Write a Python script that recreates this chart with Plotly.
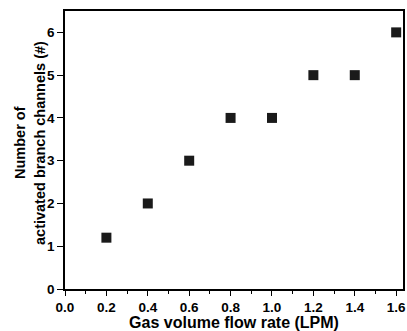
import plotly.graph_objects as go

flow_rate = [0.2, 0.4, 0.6, 0.8, 1.0, 1.2, 1.4, 1.6]
channels = [1.2, 2, 3, 4, 4, 5, 5, 6]
x_ticks = [0.0, 0.2, 0.4, 0.6, 0.8, 1.0, 1.2, 1.4, 1.6]
y_ticks = [0, 1, 2, 3, 4, 5, 6]
y_title_lines = ["Number of", "activated branch channels (#)"]

fig = go.Figure(go.Scatter(
    x=flow_rate, y=channels, mode="markers",
    marker=dict(symbol="square", size=10, color="#1a1a1a"),
))

font = "Liberation Sans, Arial, sans-serif"
fig.update_layout(
    width=407, height=331,
    margin=dict(l=65, r=2, t=11, b=42),
    plot_bgcolor="white", paper_bgcolor="white",
    showlegend=False,
    font=dict(family=font, color="black"),
)
fig.update_xaxes(
    range=[0, 1.633], tickvals=x_ticks, ticktext=[f"{v:.1f}" for v in x_ticks],
    ticks="outside", ticklen=5, tickwidth=1.3, tickcolor="black",
    minor=dict(ticks="outside", ticklen=3, tickwidth=1.2, tickcolor="black", dtick=0.1, tick0=0),
    showline=True, linecolor="black", linewidth=1.5, mirror=True,
    showgrid=False, zeroline=False,
    tickfont=dict(size=13.5, family=font, weight="bold"),
    title=dict(text="<b>Gas volume flow rate (LPM)</b>", font=dict(size=16, family=font), standoff=2),
)
fig.update_yaxes(
    range=[0, 6.5], tickvals=y_ticks,
    ticks="outside", ticklen=6, tickwidth=1.3, tickcolor="black",
    showline=True, linecolor="black", linewidth=1.5, mirror=True,
    showgrid=False, zeroline=False,
    tickfont=dict(size=13.5, family=font, weight="bold"),
)
for txt, shift in zip(y_title_lines, [-45, -25]):
    fig.add_annotation(
        text=f"<b>{txt}</b>", textangle=-90, xref="paper", yref="paper",
        x=0, y=0.5, xanchor="center", yanchor="middle", xshift=shift, yshift=7,
        showarrow=False, font=dict(size=14.5, family=font, color="black"),
    )
fig.write_html("out.html")
